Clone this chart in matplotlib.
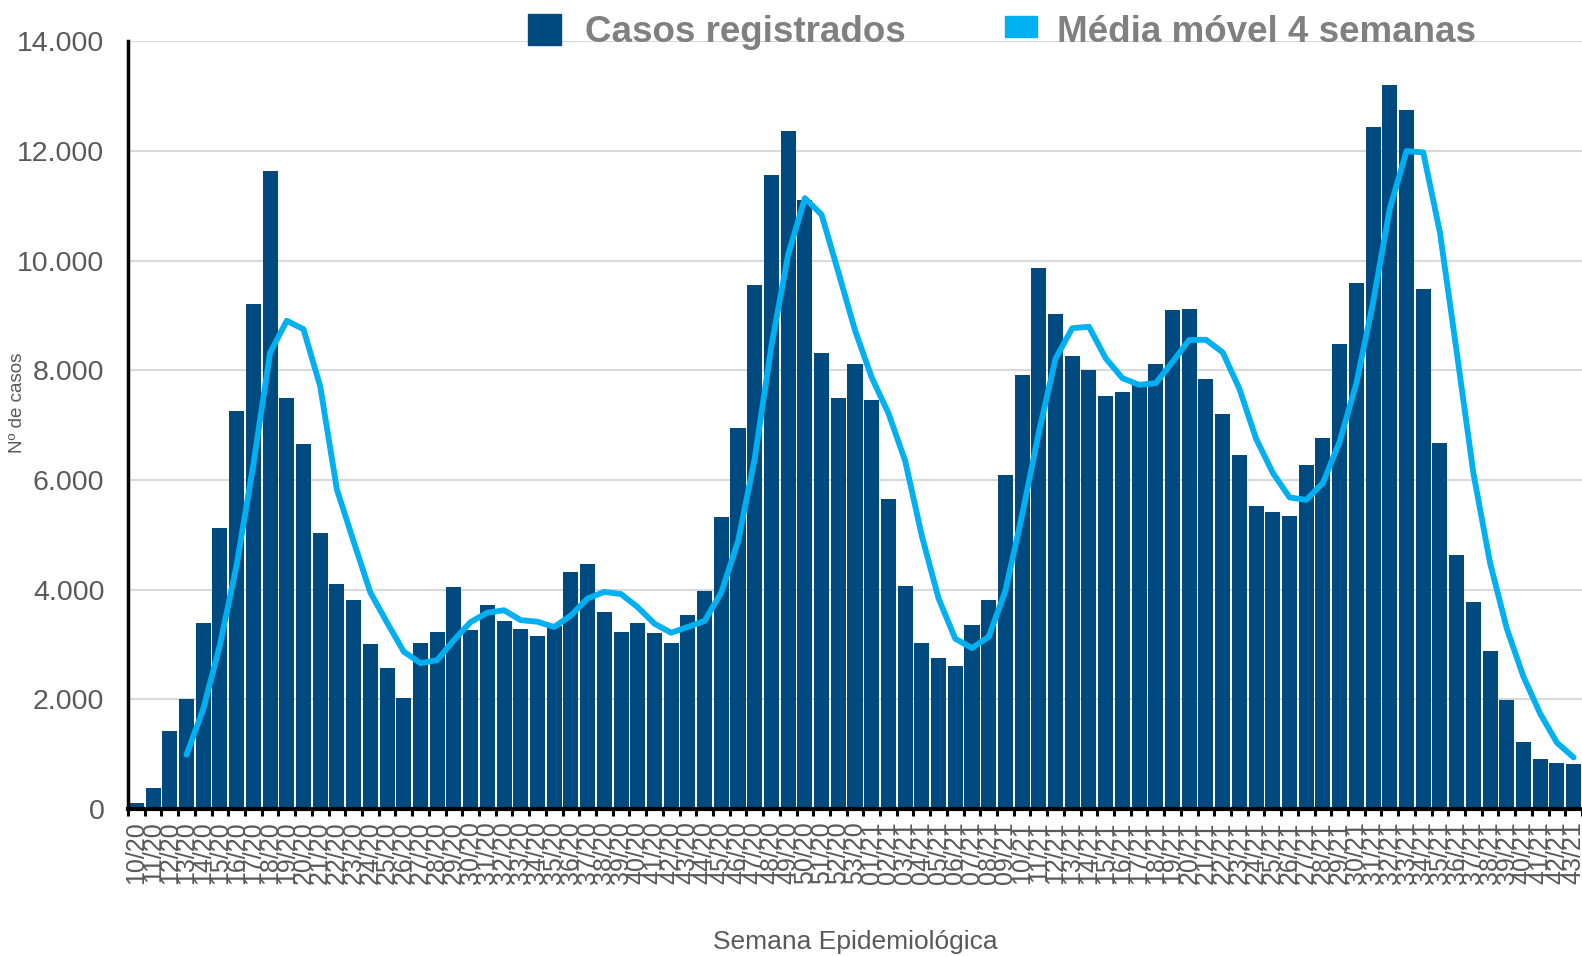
import matplotlib.pyplot as plt
from matplotlib.patches import Rectangle

plt.rcParams['font.family'] = ['Liberation Sans', 'DejaVu Sans']

# semanas epidemiológicas
semanas = [f"{w:02d}/20" for w in range(10, 54)] + [f"{w:02d}/21" for w in range(1, 44)]

casos = [
    110, 380, 1430, 2010, 3390, 5130, 7260, 9210, 11630, 7500,
    6650, 5030, 4110, 3810, 3010, 2580, 2020, 3025, 3220, 4050,
    3260, 3725, 3425, 3280, 3160, 3330, 4320, 4465, 3600, 3225,
    3395, 3210, 3020, 3540, 3980, 5320, 6940, 9560, 11570, 12370,
    11100, 8310, 7490, 8115,
    7455, 5660, 4060, 3030, 2755, 2600, 3350, 3810, 6100, 7915,
    9870, 9025, 8270, 8005, 7540, 7605, 7780, 8125, 9108, 9122,
    7845, 7200, 6455, 5520, 5425, 5335, 6265, 6765, 8475, 9590,
    12445, 13205, 12750, 9475, 6670, 4625, 3780, 2880, 1985, 1215,
    915, 845, 815,
]

# média móvel a partir de 13/20
media_movel = [
    990, 1820, 2990, 4450, 6280, 8320, 8905, 8750, 7710, 5825,
    4880, 3950, 3400, 2870, 2660, 2715, 3080, 3410, 3580, 3625,
    3445, 3415, 3320, 3530, 3840, 3960, 3920, 3680, 3380, 3215,
    3320, 3430, 3950, 4880, 6390, 8450, 10110, 11140, 10840, 9795,
    8730,
    7870, 7220, 6350, 4980, 3840, 3105, 2935, 3140, 3980, 5360,
    6870, 8215, 8770, 8795, 8220, 7858, 7736, 7768, 8155, 8555,
    8558, 8328, 7665, 6752, 6130, 5683, 5638, 5948, 6702, 7766,
    9240, 10950, 12000, 11975, 10515, 8345, 6126, 4486, 3290, 2410,
    1738, 1210, 940,
]

cor_barra = "#004A80"
cor_linha = "#00B0F0"
cinza = "#595959"

fig = plt.figure(figsize=(15.82, 9.56), dpi=100)
ax = fig.add_axes([128 / 1582, 1 - 809 / 956, 1 - 128 / 1582, (809 - 41.4) / 956])

x = list(range(len(semanas)))
ax.bar(x, casos, width=0.9, color=cor_barra, zorder=2)
x_media = x[len(semanas) - len(media_movel):]
ax.plot(x_media, media_movel, color=cor_linha, lw=4.2, solid_capstyle="round",
        solid_joinstyle="round", zorder=3)

ax.set_xlim(-0.5, len(semanas) - 0.5)
ax.set_ylim(0, 14000)
ax.set_yticks(range(0, 14001, 2000))
ax.set_yticklabels([f"{v:,}".replace(",", ".") for v in range(0, 14001, 2000)])
ax.grid(axis="y", color="#D9D9D9", lw=1.5, zorder=0)
ax.set_axisbelow(True)

ax.set_xticks(x)
ax.set_xticklabels(semanas, rotation=90, fontsize=18, color=cinza)
ax.set_xticks([i - 0.5 for i in range(len(semanas) + 1)], minor=True)
ax.tick_params(axis="x", which="major", length=0, pad=9)
ax.tick_params(axis="x", which="minor", length=5, width=2.2, color="black", direction="out")
ax.tick_params(axis="y", length=0, pad=17, labelsize=20.5, labelcolor=cinza)

for s in ("top", "right"):
    ax.spines[s].set_visible(False)
ax.spines["left"].set_linewidth(2.5)
ax.spines["bottom"].set_linewidth(3)
ax.spines["left"].set_zorder(4)
ax.spines["bottom"].set_zorder(4)

fig.text(18 / 1582, 1 - 403 / 956, "Nº de casos", rotation=90, fontsize=13.5,
         color=cinza, ha="center", va="center")
fig.text(855 / 1582, 1 - 942 / 956, "Semana Epidemiológica", fontsize=19,
         color=cinza, ha="center", va="center")

# legenda
fig.add_artist(Rectangle((528 / 1582, 1 - 45 / 956), 33 / 1582, 31 / 956,
                         transform=fig.transFigure, color=cor_barra))
fig.text(585 / 1582, 1 - 32 / 956, "Casos registrados", fontsize=26.5,
         fontweight="bold", color="#808080", ha="left", va="center")
fig.add_artist(Rectangle((1005 / 1582, 1 - 37 / 956), 32 / 1582, 21 / 956,
                         transform=fig.transFigure, color=cor_linha))
fig.text(1057 / 1582, 1 - 32 / 956, "Média móvel 4 semanas", fontsize=26.5,
         fontweight="bold", color="#808080", ha="left", va="center")

fig.savefig("out.png", dpi=100)
